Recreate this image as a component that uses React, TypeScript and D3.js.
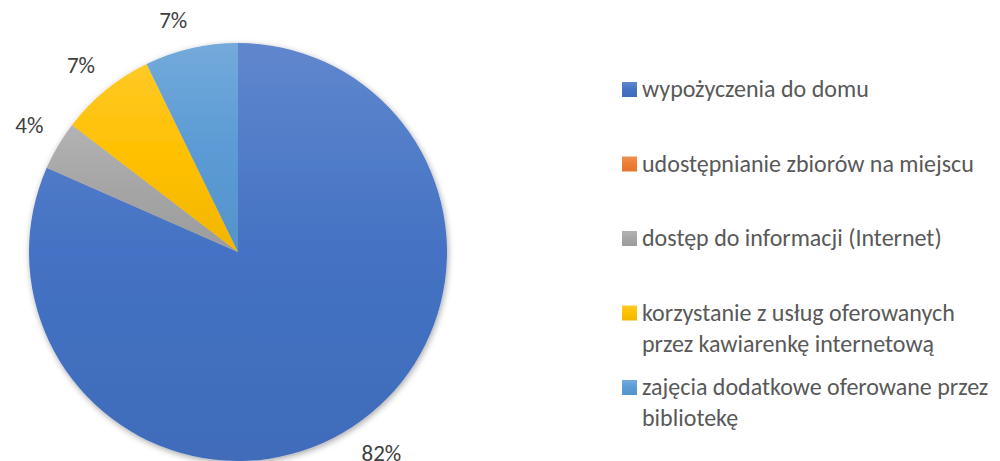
import React, { useEffect, useRef } from 'react'
import * as d3 from 'd3'

// categories and shares (percent)
const categories = [
  'wypożyczenia do domu',
  'udostępnianie zbiorów na miejscu',
  'dostęp do informacji (Internet)',
  'korzystanie z usług oferowanych przez kawiarenkę internetową',
  'zajęcia dodatkowe oferowane przez bibliotekę',
]
const values = [81.6, 0, 3.8, 7.4, 7.2]
const colors = ['#4472C4', '#ED7D31', '#A5A5A5', '#FFC000', '#5B9BD5']

const WIDTH = 1000
const HEIGHT = 461
const FONT = 'Carlito, Calibri, Lato, sans-serif'

export default function App() {
  const ref = useRef<SVGSVGElement>(null)

  useEffect(() => {
    const svg = d3.select(ref.current)
    svg.selectAll('*').remove()

    const cx = 238, cy = 252, radius = 209

    const defs = svg.append('defs')
    // soft shadow round the pie
    const f = defs.append('filter').attr('id', 'shadow')
      .attr('x', '-10%').attr('y', '-10%').attr('width', '120%').attr('height', '120%')
    f.append('feDropShadow')
      .attr('dx', 1).attr('dy', 2).attr('stdDeviation', 3)
      .attr('flood-color', '#000').attr('flood-opacity', 0.35)

    // vertical gradient per slice, lighter at the top
    colors.forEach((c, i) => {
      const g = defs.append('linearGradient').attr('id', 'grad' + i)
        .attr('x1', 0).attr('y1', 0).attr('x2', 0).attr('y2', 1)
      g.append('stop').attr('offset', '0%').attr('stop-color', d3.interpolateRgb(c, '#fff')(0.15))
      g.append('stop').attr('offset', '50%').attr('stop-color', c)
      g.append('stop').attr('offset', '100%').attr('stop-color', d3.color(c)!.darker(0.15).formatHex())
    })

    const pie = d3.pie<number>().sort(null).value(d => d)
    const arcs = pie(values)
    const arc = d3.arc<d3.PieArcDatum<number>>().innerRadius(0).outerRadius(radius)

    const g = svg.append('g').attr('transform', `translate(${cx},${cy})`)

    g.append('g').attr('filter', 'url(#shadow)')
      .selectAll('path')
      .data(arcs.filter(d => d.value > 0))
      .enter().append('path')
        .attr('d', arc)
        .style('fill', d => `url(#grad${d.index})`)

    // percent labels outside the slices: the box corner nearest the centre
    // sits on the mid angle, a little outside the rim
    const D = radius + 17
    const halfH = 11.5
    g.selectAll('text.lbl')
      .data(arcs.filter(d => d.value > 0))
      .enter().append('text')
        .attr('class', 'lbl')
        .attr('text-anchor', 'middle')
        .attr('dominant-baseline', 'central')
        .style('font-family', FONT)
        .style('font-size', '23px')
        .style('fill', '#404040')
        .text(d => Math.round(d.value) + '%')
        .each(function (d) {
          const bb = (this as SVGTextElement).getBBox()
          const a = (d.startAngle + d.endAngle) / 2
          const s = Math.sin(a), c = Math.cos(a)
          const x = s * D + Math.sign(s) * bb.width / 2
          const y = -c * D - Math.sign(c) * halfH
          d3.select(this).attr('transform', `translate(${x},${y})`)
        })

    // legend
    const legendY = d3.scaleLinear().domain([0, categories.length - 1]).range([89, 387])
    const lineH = 31
    const maxW = 353

    const items = svg.append('g').selectAll('g')
      .data(categories)
      .enter().append('g')
        .attr('transform', (d, i) => `translate(622,${legendY(i)})`)

    items.append('rect')
      .attr('x', 0).attr('y', -7).attr('width', 15).attr('height', 15)
      .style('fill', (d, i) => `url(#grad${i})`)

    items.append('text')
      .attr('x', 20)
      .style('font-family', FONT)
      .style('font-size', '24px')
      .style('fill', '#595959')
      .each(function (d) {
        // wrap the label into lines that fit the legend box
        const text = d3.select(this)
        const words = d.split(' ')
        let line: string[] = []
        let tspan = text.append('tspan').attr('x', 20).attr('dy', '0.35em')
        words.forEach(w => {
          line.push(w)
          tspan.text(line.join(' '))
          if ((tspan.node() as SVGTSpanElement).getComputedTextLength() > maxW && line.length > 1) {
            line.pop()
            tspan.text(line.join(' '))
            line = [w]
            tspan = text.append('tspan').attr('x', 20).attr('dy', lineH).text(w)
          }
        })
      })
  }, [])

  return (
    <div>
      <svg ref={ref} width={WIDTH} height={HEIGHT} style={{ position: 'absolute', left: 0, top: 0 }} />
    </div>
  )
}
